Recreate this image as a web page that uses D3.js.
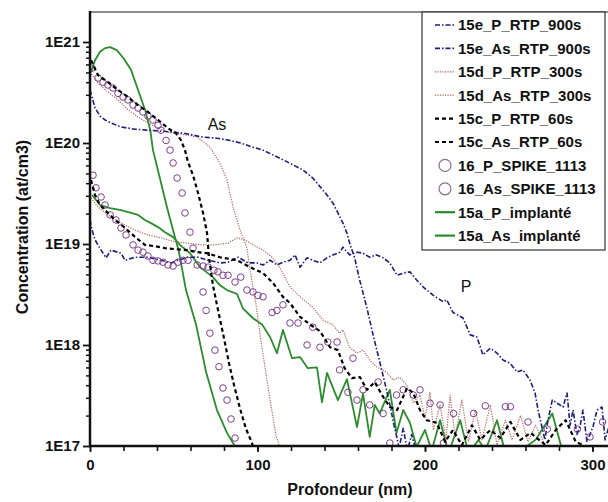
<!DOCTYPE html>
<html><head><meta charset="utf-8">
<script src="https://cdn.jsdelivr.net/npm/d3@7"></script>
<style>body{margin:0;background:#fff}svg{display:block}text{font-family:"Liberation Sans",Arial,sans-serif}</style>
</head><body><svg id="c" width="608" height="502"></svg>
<script>
// ---------- data (depth nm, concentration at/cm3) ----------
const xTickValues = [0, 100, 200, 300];
const yTickValues = [1e17, 1e18, 1e19, 1e20, 1e21];
const yTickLabels = ["1E17", "1E18", "1E19", "1E20", "1E21"];
const legendLabels = ["15e_P_RTP_900s","15e_As_RTP_900s","15d_P_RTP_300s","15d_As_RTP_300s","15c_P_RTP_60s","15c_As_RTP_60s","16_P_SPIKE_1113","16_As_SPIKE_1113","15a_P_implanté","15a_As_implanté"];

const e15_P_900 = [[0,1.73e19],[1.2,1.38e19],[3,1.1e19],[6.6,8.7e18],[9.6,7.3e18],[12.5,8.7e18],[18.5,8.1e18],[21,6.9e18],[27,7.4e18],[34.6,7.4e18],[42.4,6.9e18],[48.4,6.5e18],[52.5,6.9e18],[58.5,7.4e18],[64.5,7.4e18],[70.5,6.9e18],[78.2,6.5e18],[82.4,6.6e18],[88.4,7.4e18],[94.3,6.5e18],[99.7,6.5e18],[103.3,6.2e18],[107.5,6.9e18],[111.6,6.2e18],[115.2,6.6e18],[119.4,6.9e18],[122.4,7.8e18],[125.4,5.9e18],[129.6,7.3e18],[133,6.9e18],[137.3,6.5e18],[141.5,7.3e18],[145,7.8e18],[149.3,8.3e18],[151,9.3e18],[155,7.8e18],[159.4,8.3e18],[163,8.1e18],[167,7.4e18],[171,7.8e18],[175,7.3e18],[179,6.5e18],[183.3,4.9e18],[187,5.15e18],[191,5.3e18],[195,4.4e18],[199,3.75e18],[205,3.1e18],[211,2.67e18],[213,2.8e18],[216.7,2.1e18],[222.7,1.85e18],[227,1.26e18],[231,1.2e18],[234.6,8e17],[239,9.3e17],[243,8.3e17],[246.6,7.1e17],[250.7,6.6e17],[255,5.4e17],[258.5,5.66e17],[262.7,4.5e17],[265.7,3.35e17],[267.5,2.27e17],[270,1.5e17],[271.6,1.15e17],[273.4,1.8e17],[276,2.85e17],[279,2.65e17],[282.4,2.43e17],[284.8,3.35e17],[286.6,1.6e17],[288.4,2.27e17],[290.7,1.3e17],[292.5,1.55e17],[294.3,2.27e17],[296.7,1.1e17],[300.3,1.55e17],[302.7,2.27e17],[305.7,2.43e17],[307.5,1.15e17],[310,1.6e17]];

const e15_As_900 = [[0,3.35e20],[3,2.22e20],[6,1.85e20],[9,1.69e20],[12.5,1.58e20],[18.5,1.44e20],[26.9,1.37e20],[34.6,1.34e20],[42.4,1.31e20],[50.7,1.28e20],[58.5,1.23e20],[66.3,1.15e20],[74.6,1.12e20],[82.4,1.07e20],[90,1.0e20],[95.5,9.3e19],[103.3,8.5e19],[111.6,7.3e19],[119.4,6.3e19],[127.2,5.4e19],[133,4.5e19],[137.3,3.7e19],[141.5,3.05e19],[145,2.55e19],[148,2.03e19],[151,1.61e19],[153.4,1.28e19],[155,1.02e19],[158,7.3e18],[161,4.4e18],[165.4,2.3e18],[169,1.26e18],[173,6.8e17],[177,3.6e17],[179.7,2.27e17],[181.5,1.6e17],[183.3,1.2e17],[184.5,0.95e17],[187,1.5e17],[189.5,0.9e17],[192,1.3e17],[195,0.85e17]];

const d15_P_300 = [[0.6,2.85e19],[4.8,2.33e19],[10.7,1.94e19],[18.5,1.61e19],[26.9,1.37e19],[34.6,1.23e19],[42.4,1.15e19],[50.7,1.05e19],[58.5,1.02e19],[66.3,9.8e18],[74.6,9.8e18],[82.4,1.02e19],[87.8,1.15e19],[92.5,1.1e19],[97.3,9.8e18],[103.3,8.7e18],[108.7,7.4e18],[113.4,5.8e18],[119.4,3.75e18],[125.4,3.0e18],[133,2.37e18],[139,1.77e18],[145,1.58e18],[149,1.31e18],[151,1.41e18],[155,9.5e17],[159.4,8.3e17],[163,8.9e17],[167,7.1e17],[171,6.1e17],[177,5.4e17],[181,4.5e17],[185,4.8e17],[189,4.0e17],[193,2.67e17],[197,3.2e17],[200,1.9e17],[203,3.4e17],[205,1.44e17],[209,2.55e17],[212.5,1.15e17],[215,3.2e17],[218,1.23e17],[222,2.85e17],[226,1.1e17],[230,2.27e17],[234,1.15e17],[239,2.55e17],[243,1.02e17],[248,1.8e17],[252,1.15e17],[257,2.0e17],[261.5,1.1e17],[266,1.6e17],[272,1e17]];

const d15_As_300 = [[0,5.05e20],[4.8,3.9e20],[10.7,3.2e20],[16.7,2.67e20],[22.7,2.13e20],[28.7,1.81e20],[34.6,1.58e20],[40.6,1.41e20],[46.6,1.28e20],[53.7,1.23e20],[64,1.15e20],[71.6,9.1e19],[77.6,6.3e19],[81.8,4.3e19],[85.4,2.33e19],[89.6,1.37e19],[93.7,9.1e18],[95.5,5.5e18],[99,2.6e18],[102,1.12e18],[105,5.3e17],[108,2.55e17],[111,1.28e17],[113,1e17],[114,0.9e17]];

const c15_P_60 = [[0.6,4.3e19],[3,3.06e19],[6,2.43e19],[10.7,2.03e19],[15,1.73e19],[21,1.44e19],[27,1.17e19],[32.8,9.8e18],[38.8,9.5e18],[44.8,9.1e18],[50.7,8.9e18],[58,8.7e18],[64,8.3e18],[70,8.1e18],[77.6,7.4e18],[87.8,6.9e18],[95.5,5.9e18],[103.3,5.15e18],[109.3,4.1e18],[115.2,3.0e18],[119.4,2.6e18],[125.4,1.9e18],[131.3,1.6e18],[137.3,1.37e18],[143.3,9.5e17],[148,8.9e17],[152,5.9e17],[156.4,4.7e17],[161.2,4.8e17],[165.4,3.6e17],[170,4.3e17],[174.3,3.2e17],[179,2.43e17],[183.3,2.27e17],[189.3,3.75e17],[193,3.35e17],[197,2.27e17],[201,1.8e17],[207,1.7e17],[212,1.1e17],[216.7,1.44e17],[222,1.02e17],[228,1.6e17],[233,1.15e17],[239,1.44e17],[245,1.2e17],[251,1.73e17],[257,1.15e17],[263,1.35e17],[272,1.02e17],[278,1.44e17],[284,1.8e17],[290,1.1e17],[298.5,0.95e17]];

const c15_As_60 = [[0.6,6.6e20],[4.8,4.7e20],[10.7,4.0e20],[16.7,3.35e20],[22.7,2.85e20],[28.7,2.37e20],[34.6,2.03e20],[40.6,1.69e20],[46.6,1.4e20],[51.3,1.25e20],[54.3,1.07e20],[56.7,8.5e19],[58.5,6.5e19],[61.5,4.8e19],[64.5,3.2e19],[67.5,2.03e19],[69.9,1.28e19],[71,7.4e18],[73.4,3.9e18],[77,2.0e18],[80,1.17e18],[83,6.6e17],[86,4.0e17],[89.5,2.37e17],[93,1.5e17],[96.7,1.07e17],[98,0.9e17]];

const s16_P = [[1.8,4.8e19],[3.6,3.6e19],[6.6,2.92e19],[9,2.43e19],[12,1.94e19],[15.5,1.73e19],[18.5,1.44e19],[21.5,1.23e19],[25.7,9.8e18],[28.7,8.7e18],[31.6,8.3e18],[34.6,7.6e18],[37.6,6.9e18],[40.6,6.8e18],[43.6,6.6e18],[46.6,6.2e18],[49.6,6.05e18],[52.5,6.6e18],[55.5,6.9e18],[58.5,6.9e18],[61.5,9.1e18],[64,6.2e18],[67.5,6.05e18],[70.5,5.9e18],[74,5.5e18],[76.4,5.3e18],[79.4,4.9e18],[82.4,4.9e18],[86.6,4.2e18],[90,4.7e18],[93.7,3.5e18],[97.3,3.35e18],[100.3,3.1e18],[103.3,3.0e18],[108.7,2.1e18],[111.6,2.2e18],[115.2,2.5e18],[119.4,1.65e18],[124.2,1.65e18],[129.6,1.0e18],[133,1.5e18],[137.3,9.5e17],[142,1.07e18],[147.5,1.07e18],[149,5.66e17],[154,3.4e17],[157,7.4e17],[159.4,2.85e17],[163,3.6e17],[167,2.55e17],[172,4.3e17],[175,2.1e17],[179,1.07e17],[183,3.2e17],[187,3.6e17],[193,3.2e17],[197,3.6e17],[203,2.65e17],[209,2.55e17],[211,1.07e17],[217,2.1e17],[229,2.1e17],[236,2.5e17],[248,2.45e17],[251,2.45e17],[261.5,1.73e17],[273,1.47e17],[291,1.47e17],[298.5,1.23e17],[306,1.73e17]];

const s16_As = [[1,5.5e20],[4.8,4.4e20],[7.8,4.0e20],[10.7,3.75e20],[13.7,3.5e20],[16.7,3.1e20],[19.7,2.85e20],[22.7,2.67e20],[25.7,2.38e20],[28.7,2.22e20],[31.6,2.03e20],[34.6,1.85e20],[37.6,1.69e20],[40.6,1.5e20],[42.4,1.34e20],[45.4,1.06e20],[47.8,8.5e19],[49.6,6.34e19],[52,4.5e19],[55,3.2e19],[56.7,2.03e19],[59.7,1.31e19],[67.5,3.35e18],[69.3,2.2e18],[71.6,1.31e18],[74.6,8.9e17],[77,6.1e17],[79.4,3.75e17],[81.8,2.85e17],[84.2,1.85e17],[86.6,1.2e17]];

const a15_P = [[1.2,3.06e19],[6,2.43e19],[12,2.27e19],[18.5,2.17e19],[24.5,2.03e19],[28.7,1.94e19],[32.8,1.73e19],[36.4,1.61e19],[40.6,1.47e19],[44.8,1.31e19],[49.6,1.17e19],[53.7,9.8e18],[59.7,8.1e18],[65.7,5.9e18],[73.4,4.7e18],[77.6,3.9e18],[81.8,3.5e18],[87.8,3.2e18],[91.3,2.3e18],[97.3,1.84e18],[102.7,1.6e18],[107.5,1.2e18],[111.6,8.3e17],[115.2,1.41e18],[120.6,7.4e17],[125.4,7.6e17],[130,5.9e17],[135.5,6.0e17],[138.5,2.7e17],[141.5,5.3e17],[148,2.85e17],[153.4,4.6e17],[159.4,1.54e17],[163,3.3e17],[167,1.23e17],[170,2.55e17],[173,2.1e17],[179,3.6e17],[183,1.35e17],[187,2.27e17],[191,1.7e17],[195,0.98e17],[200,1.44e17],[204,0.9e17],[209,1.8e17],[214,0.85e17],[221,1.8e17],[226,0.85e17],[232,1.15e17],[236,0.9e17],[243,1.8e17],[248,0.85e17],[257,0.9e17],[266,1.15e17],[276,2.1e17],[282,0.9e17],[290,0.85e17]];

const a15_As = [[0.5,5.0e20],[3,6.6e20],[6,8.0e20],[9,8.7e20],[12,8.9e20],[16,8.3e20],[20,6.9e20],[24.5,5.3e20],[28.7,3.35e20],[33,2.1e20],[36,1.34e20],[37.6,8.5e19],[42,4.3e19],[46,2.3e19],[49.6,1.37e19],[53,8.5e18],[57.3,3.5e18],[63.3,1.6e18],[69.3,5.4e17],[75.8,2.27e17],[81.8,1.35e17],[85.4,1.07e17],[88,0.9e17]];

// ---------- drawing ----------
const svg = d3.select("#c");
const x = d3.scaleLinear().domain([0, 310]).range([90, 609.25]);
const y = d3.scaleLog().domain([1e17, 1e21]).range([446, 42]);
const pTop = 12, pLeft = 90, pBottom = 446, pRight = 608;

svg.append("defs").append("clipPath").attr("id","clip")
  .append("rect").attr("x",pLeft).attr("y",pTop).attr("width",pRight-pLeft).attr("height",pBottom-pTop);

const NAVY="#1d1d7c", BROWN="#b0625c", GREEN="#2c8c2c", PURPLE="#7e3f8c";
const styles = {
  dashdot:{stroke:NAVY,width:1.6,dash:"5,2,1.5,2"},
  dotted:{stroke:BROWN,width:1.2,dash:"1.2,1.3"},
  dashed:{stroke:"#000",width:2.2,dash:"4,3"},
  solid:{stroke:GREEN,width:1.8,dash:null}
};
const line = d3.line().x(d=>x(d[0])).y(d=>y(d[1]));
const g = svg.append("g").attr("clip-path","url(#clip)");

function drawLine(data, st){
  g.append("path").datum(data).attr("d",line).attr("fill","none")
    .attr("stroke",st.stroke).attr("stroke-width",st.width)
    .attr("stroke-dasharray",st.dash).attr("stroke-linejoin","round");
}
function drawCircles(data){
  g.selectAll(null).data(data).enter().append("circle")
    .attr("cx",d=>x(d[0])).attr("cy",d=>y(d[1])).attr("r",3.3)
    .attr("fill","none").attr("stroke",PURPLE).attr("stroke-width",1);
}
drawLine(a15_As, styles.solid);
drawLine(a15_P, styles.solid);
drawLine(d15_As_300, styles.dotted);
drawLine(d15_P_300, styles.dotted);
drawLine(e15_As_900, styles.dashdot);
drawLine(e15_P_900, styles.dashdot);
drawCircles(s16_As);
drawCircles(s16_P);
drawLine(c15_As_60, styles.dashed);
drawLine(c15_P_60, styles.dashed);

// axes
const minorY = [];
for (let e=17;e<=20;e++) for (let m=2;m<=9;m++) minorY.push(m*Math.pow(10,e));
svg.append("g").attr("transform",`translate(${pLeft},0)`)
  .call(d3.axisLeft(y).tickValues(minorY).tickSize(4).tickFormat(""))
  .call(a=>a.select(".domain").remove())
  .call(a=>a.selectAll("line").attr("stroke","#111").attr("stroke-width",1.5));
svg.append("g").attr("transform",`translate(${pLeft},0)`)
  .call(d3.axisLeft(y).tickValues(yTickValues).tickSize(7).tickPadding(3)
    .tickFormat((d,i)=>yTickLabels[i]))
  .call(a=>a.select(".domain").remove())
  .call(a=>a.selectAll("line").attr("stroke","#111").attr("stroke-width",1.8))
  .call(a=>a.selectAll("text").attr("font-size",15).attr("font-weight","bold").attr("fill","#111")
    .attr("font-family","'Liberation Sans',Arial,sans-serif"));

const minorX = d3.range(0, 310, 20);
svg.append("g").attr("transform",`translate(0,${pBottom})`)
  .call(d3.axisBottom(x).tickValues(minorX).tickSize(5).tickFormat(""))
  .call(a=>a.select(".domain").remove())
  .call(a=>a.selectAll("line").attr("stroke","#111").attr("stroke-width",1.6));
svg.append("g").attr("transform",`translate(0,${pBottom})`)
  .call(d3.axisBottom(x).tickValues(xTickValues).tickSize(6).tickPadding(7))
  .call(a=>a.select(".domain").remove())
  .call(a=>a.selectAll("line").attr("stroke","#111").attr("stroke-width",1.6))
  .call(a=>a.selectAll("text").attr("font-size",15).attr("font-weight","bold").attr("fill","#111")
    .attr("font-family","'Liberation Sans',Arial,sans-serif"));

// frame lines
svg.append("line").attr("x1",pLeft).attr("x2",pRight).attr("y1",pTop).attr("y2",pTop)
  .attr("stroke","#666").attr("stroke-width",1.5);
svg.append("line").attr("x1",pLeft).attr("x2",pLeft).attr("y1",pTop-1).attr("y2",pBottom+1)
  .attr("stroke","#111").attr("stroke-width",2.5);
svg.append("line").attr("x1",pLeft-1).attr("x2",pRight).attr("y1",pBottom).attr("y2",pBottom)
  .attr("stroke","#111").attr("stroke-width",2.5);

// axis titles
svg.append("text").attr("x",350).attr("y",495).attr("text-anchor","middle")
  .attr("font-size",16).attr("font-weight","bold").attr("fill","#111").text("Profondeur (nm)");
svg.append("text").attr("transform","translate(28,227) rotate(-90)").attr("text-anchor","middle")
  .attr("font-size",16).attr("font-weight","bold").attr("fill","#111").text("Concentration (at/cm3)");

// annotations
svg.append("text").attr("x",217).attr("y",130).attr("text-anchor","middle")
  .attr("font-size",16).attr("fill","#111").text("As");
svg.append("text").attr("x",466).attr("y",292).attr("text-anchor","middle")
  .attr("font-size",16).attr("fill","#111").text("P");

// legend
const lg = svg.append("g");
lg.append("rect").attr("x",422).attr("y",12).attr("width",183).attr("height",238)
  .attr("fill","#fff").attr("stroke","#333").attr("stroke-width",1.2);
const legendStyles = ["dashdot","dashdot","dotted","dotted","dashed","dashed","circle","circle","solid","solid"];
legendLabels.forEach((lab,i)=>{
  const yy = 25 + i*23.4;
  const st = legendStyles[i];
  if (st==="circle"){
    lg.append("circle").attr("cx",445).attr("cy",yy).attr("r",6)
      .attr("fill","none").attr("stroke","#8a6c8c").attr("stroke-width",1.2);
  } else {
    const s = styles[st];
    lg.append("line").attr("x1",435).attr("x2",455).attr("y1",yy).attr("y2",yy)
      .attr("stroke",s.stroke).attr("stroke-width",st==="solid"?2.2:s.width)
      .attr("stroke-dasharray",s.dash);
  }
  lg.append("text").attr("x",458).attr("y",yy).attr("dy","0.36em")
    .attr("font-size",15).attr("font-weight","bold").attr("fill","#111").text(lab);
});
</script></body></html>
